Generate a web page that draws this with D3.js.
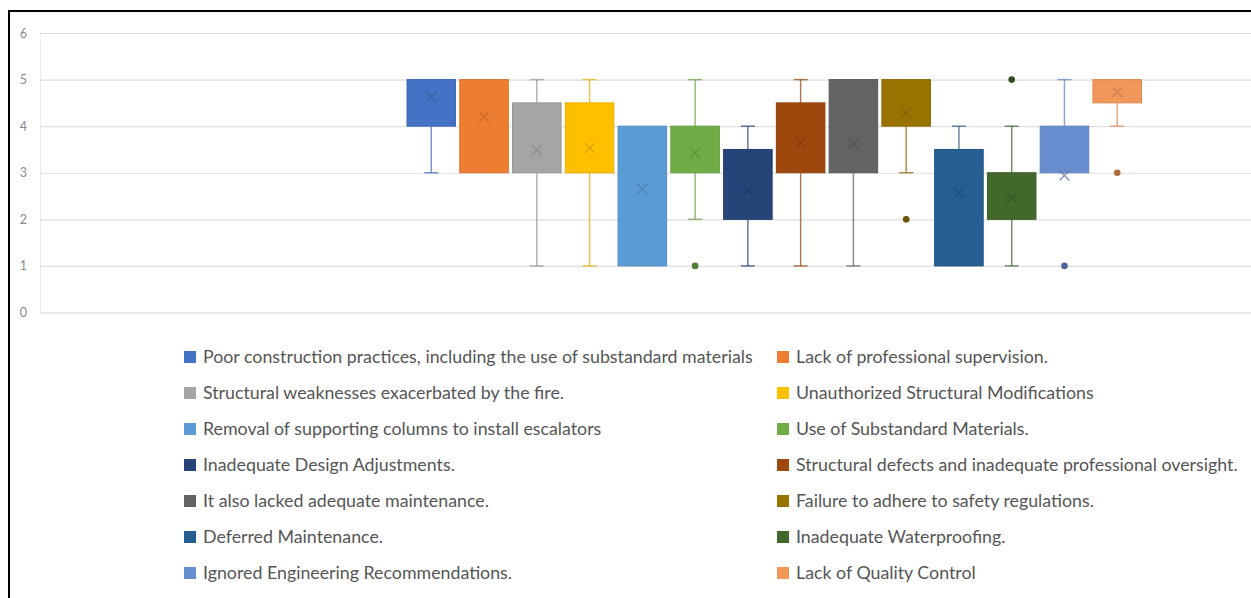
<!DOCTYPE html>
<html>
<head>
<meta charset="utf-8">
<script src="https://cdn.jsdelivr.net/npm/d3@7"></script>
<style>
  html, body { margin: 0; padding: 0; background: #fff; }
  svg { display: block; }
</style>
</head>
<body>
<svg id="chart" width="1251" height="598"></svg>
<script>
// Survey ratings (1–5) per cause of the collapse, summarised as box plots.
const categories = [
  "Poor construction practices, including the use of substandard materials",
  "Lack of professional supervision.",
  "Structural weaknesses exacerbated by the fire.",
  "Unauthorized Structural Modifications",
  "Removal of supporting columns to install escalators",
  "Use of Substandard Materials.",
  "Inadequate Design Adjustments.",
  "Structural defects and inadequate professional oversight.",
  "It also lacked adequate maintenance.",
  "Failure to adhere to safety regulations.",
  "Deferred Maintenance.",
  "Inadequate Waterproofing.",
  "Ignored Engineering Recommendations.",
  "Lack of Quality Control"
];
const colors = ["#4472C4", "#ED7D31", "#A5A5A5", "#FFC000", "#5B9BD5", "#70AD47", "#264478",
                "#9E480E", "#636363", "#997300", "#255E91", "#43682B", "#698ED0", "#F1975A"];
const whiskerLow  = [3, 3, 1, 1, 1, 2, 1, 1, 1, 3, 1, 1, 3, 4];
const q1          = [4, 3, 3, 3, 1, 3, 2, 3, 3, 4, 1, 2, 3, 4.5];
const q3          = [5, 5, 4.5, 4.5, 4, 4, 3.5, 4.5, 5, 5, 3.5, 3, 4, 5];
const whiskerHigh = [5, 5, 5, 5, 4, 5, 4, 5, 5, 5, 4, 4, 5, 5];
const means       = [4.63, 4.2, 3.49, 3.53, 2.65, 3.43, 2.62, 3.64, 3.63, 4.28, 2.57, 2.46, 2.94, 4.73];
const outliers    = [[], [], [], [], [], [1], [], [], [], [2], [], [5], [1], [3]];
const yTicks = [0, 1, 2, 3, 4, 5, 6];

const svg = d3.select("#chart");

// chart frame
svg.append("path")
  .attr("d", "M9,598 V11 H1251")
  .attr("fill", "none").attr("stroke", "#000").attr("stroke-width", 2);

const y = d3.scaleLinear().domain([0, 6]).range([312.5, 33]);
const x = d3.scaleBand().domain(categories).range([407, 1141.5]).paddingInner(0.08);

// gridlines and value axis
const yAxis = d3.axisLeft(y).tickValues(yTicks).tickFormat(d3.format("d"))
  .tickSize(-(1251 - 40)).tickPadding(13);
const gy = svg.append("g").attr("transform", "translate(40,0)").call(yAxis);
gy.select(".domain").attr("stroke", "#ececec");
gy.selectAll(".tick line").attr("stroke", "#dedede").attr("stroke-width", 1.2);
gy.selectAll(".tick text")
  .attr("fill", "#8a8a8a")
  .style("font-family", "Lato, 'Open Sans', sans-serif")
  .style("font-size", "12.5px");

const data = categories.map((c, i) => ({
  name: c, color: colors[i], lo: whiskerLow[i], q1: q1[i], q3: q3[i],
  hi: whiskerHigh[i], mean: means[i], out: outliers[i]
}));

const g = svg.append("g");
const boxes = g.selectAll("g.box").data(data).join("g").attr("class", "box");

// whiskers
boxes.each(function(d) {
  const sel = d3.select(this);
  const cx = x(d.name) + x.bandwidth() / 2;
  const wc = d3.color(d.color).darker(0.3);
  const segs = [];
  if (d.lo < d.q1) segs.push([d.lo, d.q1]);
  if (d.hi > d.q3) segs.push([d.q3, d.hi]);
  segs.forEach(([a, b]) => {
    sel.append("line").attr("x1", cx).attr("x2", cx).attr("y1", y(a)).attr("y2", y(b))
      .attr("stroke", wc).attr("stroke-opacity", 0.7).attr("stroke-width", 1.5);
  });
  [[d.lo, d.lo < d.q1], [d.hi, d.hi > d.q3]].forEach(([v, show]) => {
    if (!show) return;
    sel.append("line").attr("x1", cx - 7).attr("x2", cx + 7).attr("y1", y(v)).attr("y2", y(v))
      .attr("stroke", wc).attr("stroke-opacity", 0.7).attr("stroke-width", 1.5);
  });
});

// boxes
boxes.append("rect")
  .attr("x", d => x(d.name))
  .attr("width", x.bandwidth())
  .attr("y", d => y(d.q3))
  .attr("height", d => y(d.q1) - y(d.q3))
  .attr("fill", d => d.color)
  .attr("stroke", d => d3.color(d.color).darker(0.25))
  .attr("stroke-width", 1);

// mean markers
const xs = 5;
boxes.append("path")
  .attr("d", d => {
    const cx = x(d.name) + x.bandwidth() / 2, cy = y(d.mean);
    return `M${cx - xs},${cy - xs}L${cx + xs},${cy + xs}M${cx - xs},${cy + xs}L${cx + xs},${cy - xs}`;
  })
  .attr("stroke", d => d3.color(d.color).darker(0.6))
  .attr("stroke-opacity", 0.75)
  .attr("stroke-width", 1.4)
  .attr("fill", "none");

// outlier points
boxes.selectAll("circle").data(d => d.out.map(v => ({ v, d }))).join("circle")
  .attr("cx", o => x(o.d.name) + x.bandwidth() / 2)
  .attr("cy", o => y(o.v))
  .attr("r", 3.3)
  .attr("fill", o => d3.color(o.d.color).darker(0.9));

// legend: two columns, filled row by row
const legend = svg.append("g");
const colX = [184, 777], textOff = 19, row0 = 357, rowH = 36;
const items = legend.selectAll("g").data(data).join("g")
  .attr("transform", (d, i) => `translate(${colX[i % 2]},${row0 + Math.floor(i / 2) * rowH})`);
items.append("rect")
  .attr("x", 0).attr("y", -6).attr("width", 12).attr("height", 12)
  .attr("fill", d => d.color);
items.append("text")
  .attr("x", textOff).attr("y", 0).attr("dy", "0.35em")
  .attr("fill", "#555555")
  .style("font-family", "Lato, 'Open Sans', sans-serif")
  .style("font-size", "17.8px")
  .text(d => d.name);
</script>
</body>
</html>
